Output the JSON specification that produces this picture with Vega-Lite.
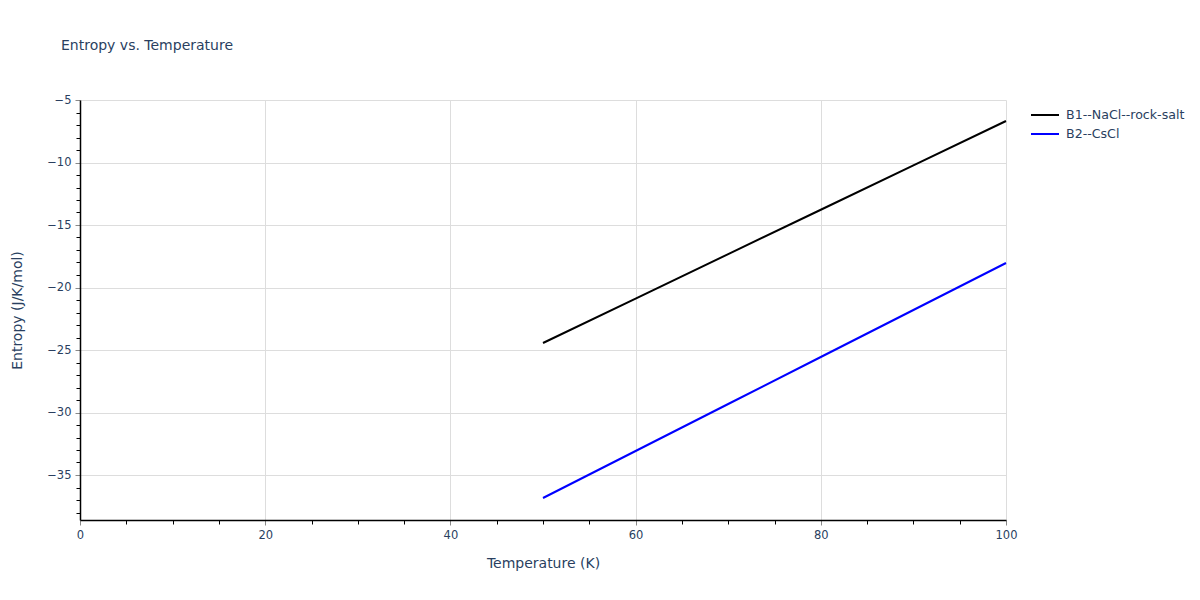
{
  "$schema": "https://vega.github.io/schema/vega-lite/v6.json",
  "autosize": "none",
  "width": 926,
  "height": 420,
  "padding": {"left": 80, "top": 100, "right": 194, "bottom": 80},
  "background": "white",
  "title": {
    "text": "Entropy vs. Temperature",
    "anchor": "start",
    "frame": "group",
    "dx": -19,
    "offset": 41,
    "font": "DejaVu Sans",
    "fontSize": 14,
    "fontWeight": "normal",
    "color": "#2a3f5f"
  },
  "config": {
    "view": {"stroke": null},
    "font": "DejaVu Sans",
    "axis": {
      "labelFont": "DejaVu Sans",
      "labelFontSize": 11.5,
      "labelColor": "#2a3f5f",
      "labelFlush": false,
      "titleFont": "DejaVu Sans",
      "titleFontSize": 14,
      "titleFontWeight": "normal",
      "titleColor": "#2a3f5f",
      "gridColor": "#dddddd",
      "gridWidth": 1,
      "domainColor": "#000000",
      "domainWidth": 1.5,
      "tickColor": "#888888",
      "tickSize": 5,
      "labelPadding": 4
    }
  },
  "data": {
    "values": [
      {"T": 50, "S": -24.44, "series": "B1--NaCl--rock-salt"},
      {"T": 60, "S": -20.89, "series": "B1--NaCl--rock-salt"},
      {"T": 70, "S": -17.33, "series": "B1--NaCl--rock-salt"},
      {"T": 80, "S": -13.78, "series": "B1--NaCl--rock-salt"},
      {"T": 90, "S": -10.23, "series": "B1--NaCl--rock-salt"},
      {"T": 100, "S": -6.68, "series": "B1--NaCl--rock-salt"},
      {"T": 50, "S": -36.84, "series": "B2--CsCl"},
      {"T": 60, "S": -33.08, "series": "B2--CsCl"},
      {"T": 70, "S": -29.32, "series": "B2--CsCl"},
      {"T": 80, "S": -25.56, "series": "B2--CsCl"},
      {"T": 90, "S": -21.80, "series": "B2--CsCl"},
      {"T": 100, "S": -18.04, "series": "B2--CsCl"}
    ]
  },
  "resolve": {"axis": {"x": "independent", "y": "independent"}},
  "layer": [
    {
      "mark": {"type": "line", "strokeWidth": 2, "opacity": 0},
      "encoding": {
        "x": {
          "field": "T", "type": "quantitative",
          "scale": {"domain": [0, 100], "nice": false, "zero": false},
          "axis": {"orient": "bottom", "values": [5,10,15,25,30,35,45,50,55,65,70,75,85,90,95], "labels": false, "grid": false, "domain": false, "title": null, "tickColor": "#000000", "tickSize": 4}
        },
        "y": {
          "field": "S", "type": "quantitative",
          "scale": {"domain": [-38.6, -5], "nice": false, "zero": false},
          "axis": {"orient": "left", "values": [-6,-7,-8,-9,-11,-12,-13,-14,-16,-17,-18,-19,-21,-22,-23,-24,-26,-27,-28,-29,-31,-32,-33,-34,-36,-37,-38], "labels": false, "grid": false, "domain": false, "title": null, "tickColor": "#000000", "tickSize": 4}
        },
        "detail": {"field": "series"}
      }
    },
    {
      "mark": {"type": "line", "strokeWidth": 2},
      "encoding": {
        "x": {
          "field": "T", "type": "quantitative",
          "title": "Temperature (K)",
          "scale": {"domain": [0, 100], "nice": false, "zero": false},
          "axis": {"orient": "bottom", "values": [0, 20, 40, 60, 80, 100], "grid": true, "titlePadding": 16}
        },
        "y": {
          "field": "S", "type": "quantitative",
          "title": "Entropy (J/K/mol)",
          "scale": {"domain": [-38.6, -5], "nice": false, "zero": false},
          "axis": {"orient": "left", "values": [-35, -30, -25, -20, -15, -10, -5], "grid": true, "titlePadding": 22, "labelExpr": "replace(datum.label, '-', '\u2212')"}
        },
        "color": {
          "field": "series", "type": "nominal",
          "scale": {"domain": ["B1--NaCl--rock-salt", "B2--CsCl"], "range": ["#000000", "#0000ff"]},
          "legend": {
            "title": null,
            "orient": "none",
            "legendX": 957,
            "legendY": 7,
            "symbolType": "M-2,0H2",
            "symbolSize": 196,
            "symbolStrokeWidth": 2,
            "labelFont": "DejaVu Sans",
            "labelFontSize": 12.6,
            "labelColor": "#2a3f5f",
            "labelOffset": 13,
            "rowPadding": 4
          }
        }
      }
    }
  ]
}
